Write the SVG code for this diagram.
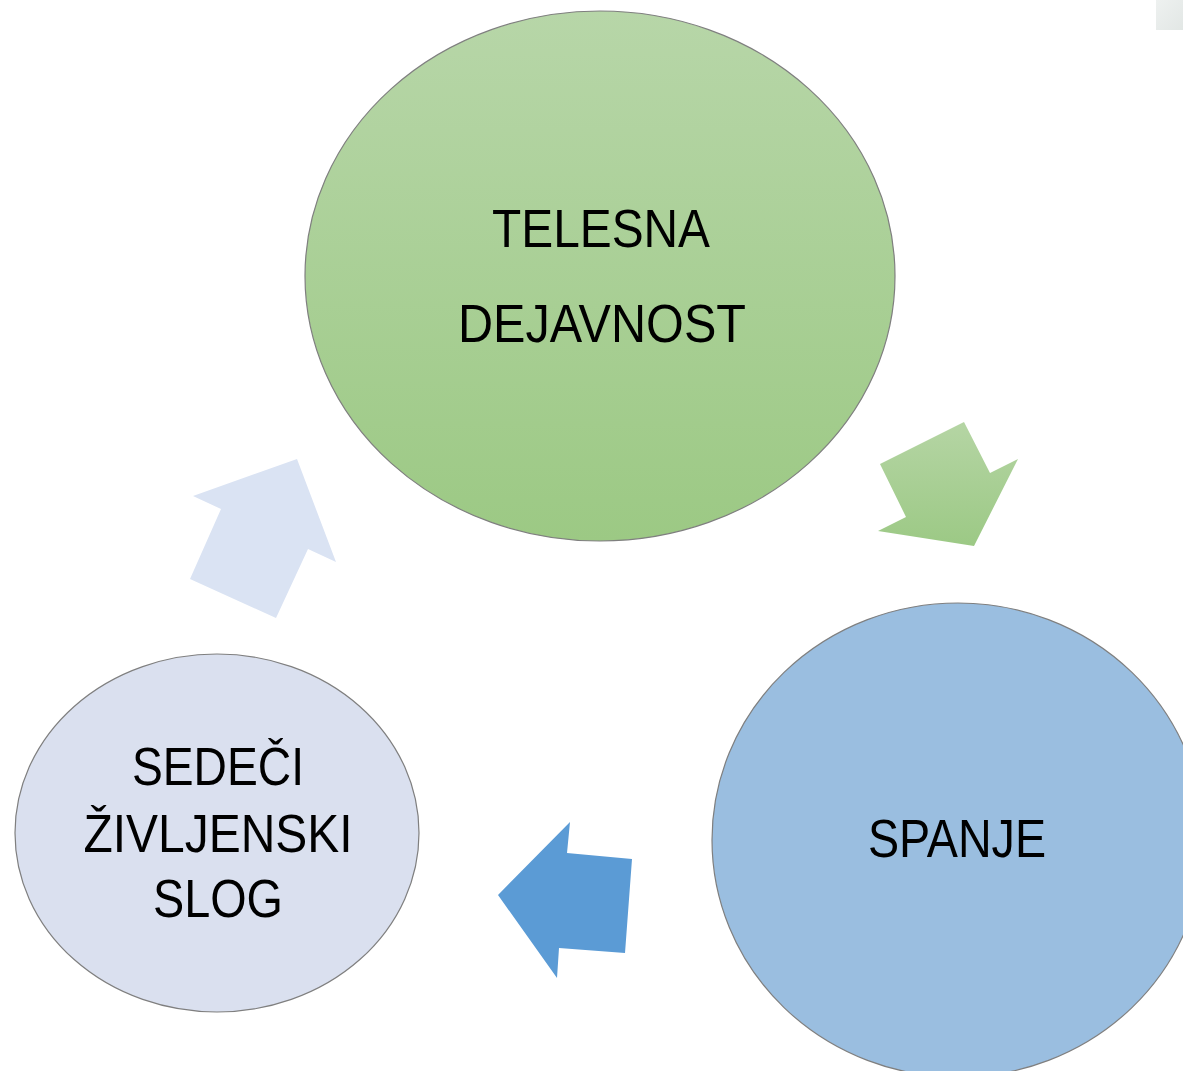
<svg xmlns="http://www.w3.org/2000/svg" width="1183" height="1071" viewBox="0 0 1183 1071">
<defs>
<linearGradient id="gGreen" x1="0" y1="0" x2="0" y2="1">
<stop offset="0" stop-color="#b7d6a8"/>
<stop offset="1" stop-color="#9cc984"/>
</linearGradient>
<linearGradient id="gArrow" x1="0" y1="0" x2="0" y2="1">
<stop offset="0" stop-color="#b5d5a4"/>
<stop offset="1" stop-color="#9cc985"/>
</linearGradient>
<linearGradient id="gCorner" x1="0" y1="0" x2="1" y2="1">
<stop offset="0" stop-color="#eef1f0"/>
<stop offset="1" stop-color="#e2e7e5"/>
</linearGradient>
<style>
.lbl{font-family:"Liberation Sans",Arial,sans-serif;font-size:54px;fill:#000;text-anchor:middle}
.node{stroke:#7f7f7f;stroke-width:1.2}
</style>
</defs>
<rect width="1183" height="1071" fill="#fff"/>
<rect x="1156" y="0" width="27" height="30" fill="url(#gCorner)"/>
<g id="connectors">
<polygon id="arrow-green" points="880,464 964,422 990,473 1018,459 974,546 878,531 906,517" fill="url(#gArrow)"/>
<polygon id="arrow-blue" points="498,895 570,822 567,853 632,859 625,953 559,948 557,978" fill="#5b9bd5"/>
<polygon id="arrow-light" points="193,496 297,459 336,562 308,549 276,618 190,579 221,509" fill="#dae3f3"/>
</g>
<g id="node-telesna">
<ellipse class="node" cx="600" cy="276" rx="295" ry="265" fill="url(#gGreen)"/>
<text class="lbl" x="601" y="247" textLength="218" lengthAdjust="spacingAndGlyphs">TELESNA</text>
<text class="lbl" x="602" y="342" textLength="288" lengthAdjust="spacingAndGlyphs">DEJAVNOST</text>
</g>
<g id="node-spanje">
<ellipse class="node" cx="958" cy="840" rx="246" ry="237" fill="#9abee0"/>
<text class="lbl" x="957" y="857" textLength="178" lengthAdjust="spacingAndGlyphs">SPANJE</text>
</g>
<g id="node-sedeci">
<ellipse class="node" cx="217" cy="833" rx="202" ry="179" fill="#dae0ef"/>
<text class="lbl" x="218" y="785" textLength="172" lengthAdjust="spacingAndGlyphs">SEDEČI</text>
<text class="lbl" x="218" y="852" textLength="269" lengthAdjust="spacingAndGlyphs">ŽIVLJENSKI</text>
<text class="lbl" x="218" y="917" textLength="130" lengthAdjust="spacingAndGlyphs">SLOG</text>
</g>
</svg>
